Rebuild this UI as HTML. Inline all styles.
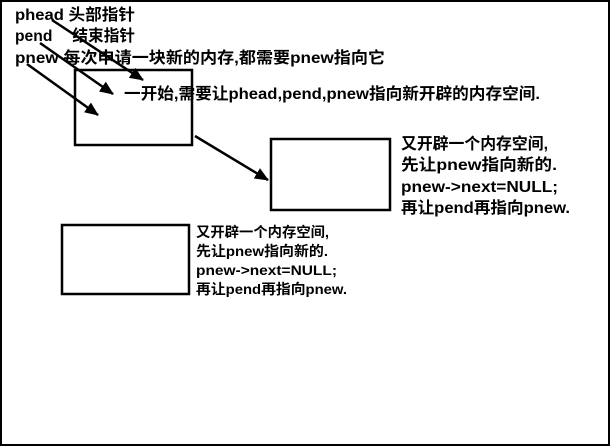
<!DOCTYPE html>
<html><head><meta charset="utf-8"><style>
html,body{margin:0;padding:0;background:#fff}
svg{display:block}
text{font-family:"Liberation Sans","Noto Sans CJK SC",sans-serif;font-weight:bold;fill:#000}
</style></head><body>
<svg width="611" height="447" viewBox="0 0 611 447" xmlns="http://www.w3.org/2000/svg">
<defs><marker id="a" markerWidth="14" markerHeight="12" refX="13" refY="6" orient="auto" markerUnits="userSpaceOnUse"><path d="M0,0 L14,6 L0,12 Z" fill="#000"/></marker></defs>
<rect x="1" y="1" width="608" height="444" fill="none" stroke="#000" stroke-width="2"/>
<rect x="75" y="70" width="117" height="75" fill="none" stroke="#000" stroke-width="2.5"/>
<rect x="271" y="139" width="119" height="71" fill="none" stroke="#000" stroke-width="2.5"/>
<rect x="62" y="225" width="127" height="69" fill="none" stroke="#000" stroke-width="2.5"/>
<g stroke="#000" stroke-width="2.5" marker-end="url(#a)">
<line x1="52" y1="20" x2="143" y2="80"/>
<line x1="40" y1="43" x2="113" y2="94"/>
<line x1="27" y1="64" x2="98" y2="115"/>
<line x1="195" y1="136" x2="268" y2="180"/>
</g>
<g font-size="16" lengthAdjust="spacingAndGlyphs">
<text x="15" y="20" textLength="120" lengthAdjust="spacingAndGlyphs">phead 头部指针</text>
<text x="15" y="41" textLength="120" lengthAdjust="spacingAndGlyphs">pend　 结束指针</text>
<text x="15" y="63" textLength="370" lengthAdjust="spacingAndGlyphs">pnew 每次申请一块新的内存,都需要pnew指向它</text>
<text x="124" y="99" textLength="416" lengthAdjust="spacingAndGlyphs">一开始,需要让phead,pend,pnew指向新开辟的内存空间.</text>
<text x="401" y="149" textLength="147" lengthAdjust="spacingAndGlyphs">又开辟一个内存空间,</text>
<text x="401" y="170" textLength="156" lengthAdjust="spacingAndGlyphs">先让pnew指向新的.</text>
<text x="401" y="192" textLength="157" lengthAdjust="spacingAndGlyphs">pnew-&gt;next=NULL;</text>
<text x="401" y="213" textLength="169" lengthAdjust="spacingAndGlyphs">再让pend再指向pnew.</text>
</g>
<g font-size="14">
<text x="196" y="237" textLength="133" lengthAdjust="spacingAndGlyphs">又开辟一个内存空间,</text>
<text x="196" y="256" textLength="132" lengthAdjust="spacingAndGlyphs">先让pnew指向新的.</text>
<text x="196" y="275" textLength="141" lengthAdjust="spacingAndGlyphs">pnew-&gt;next=NULL;</text>
<text x="196" y="294" textLength="151" lengthAdjust="spacingAndGlyphs">再让pend再指向pnew.</text>
</g>
</svg>
</body></html>
